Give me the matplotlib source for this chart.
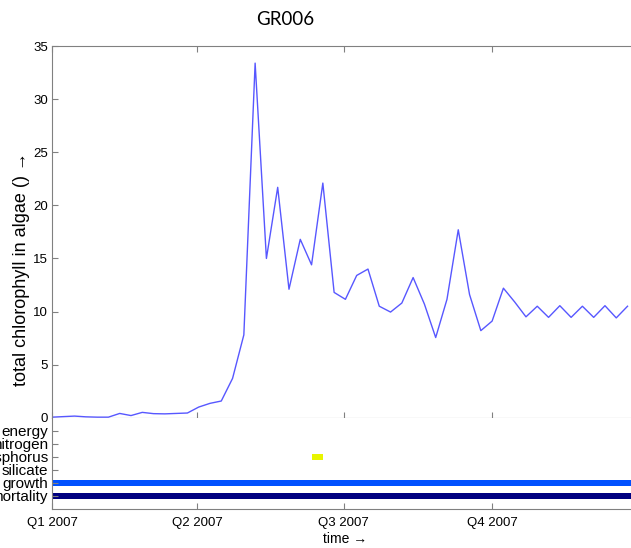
"""Chlorophyll time series with limiting-factor strip for station GR006."""

import datetime as dt

import matplotlib
matplotlib.use('Agg')
import matplotlib.dates as mdates
import matplotlib.pyplot as plt

plt.rcParams['font.family'] = ['Liberation Sans', 'DejaVu Sans']
plt.rcParams['font.size'] = 10

# weekly model output, starting 1 Jan 2007
start = dt.date(2007, 1, 1)
chlorophyll = [0.05, 0.1, 0.15, 0.08, 0.05, 0.05, 0.4, 0.2, 0.5, 0.38,
               0.36, 0.4, 0.44, 1.0, 1.35, 1.57, 3.7, 7.8, 33.4, 15.0,
               21.7, 12.1, 16.8, 14.4, 22.1, 11.8, 11.15, 13.4, 14.0, 10.5,
               9.95, 10.8, 13.2, 10.7, 7.55, 11.15, 17.7, 11.6, 8.2, 9.1,
               12.2, 10.9, 9.5, 10.5, 9.45, 10.55, 9.45, 10.5, 9.45, 10.55,
               9.4, 10.5]
dates = [start + dt.timedelta(days=7 * i) for i in range(len(chlorophyll))]

# limiting factors, top to bottom
factors = ['energy', 'nitrogen', 'phosphorus', 'silicate', 'growth', 'mortality']
# (factor, first week index, number of weeks, colour)
limits = [('phosphorus', 23, 1, '#e8f500'),
          ('growth', 0, 52, '#0050ff'),
          ('mortality', 0, 52, '#000080')]

quarters = [dt.date(2007, 1, 1), dt.date(2007, 4, 1),
            dt.date(2007, 7, 1), dt.date(2007, 10, 1)]
quarter_labels = ['Q1 2007', 'Q2 2007', 'Q3 2007', 'Q4 2007']

xlim = (dt.date(2007, 1, 1), dt.date(2007, 12, 31))
grey = '#808080'

fig = plt.figure(figsize=(6.31, 5.48), dpi=100)
ax = fig.add_axes([0.0824, 0.2378, 0.93, 0.678])
ax2 = fig.add_axes([0.0824, 0.0712, 0.93, 0.1666])

ax.plot(dates, chlorophyll, color='#3a3aff', lw=1.0, alpha=0.85)
ax.set_xlim(*xlim)
ax.set_ylim(0, 35)
ax.set_yticks(range(0, 36, 5))
ax.set_xticks(quarters)
ax.set_xticklabels([])
ax.tick_params(direction='in', length=4, color=grey, top=True,
               labelsize=9.5, pad=3)
ax.set_xlabel('x coordinate \u2192', labelpad=5)
for s in ax.spines.values():
    s.set_color(grey)

# limiting-factor strip
ypos = {f: len(factors) - i for i, f in enumerate(factors)}
for name, first, n, colour in limits:
    ax2.barh(ypos[name], n * 7, left=mdates.date2num(dates[first]),
             height=0.47, color=colour)
ax2.set_xlim(*xlim)
ax2.set_ylim(0, 7)
ax2.set_yticks([ypos[f] for f in factors])
ax2.set_yticklabels(factors)
ax2.set_xticks(quarters)
ax2.set_xticklabels(quarter_labels)
ax2.tick_params(direction='in', length=4, color=grey, pad=3)
ax2.tick_params(axis='y', labelsize=11)
ax2.tick_params(axis='x', labelsize=9.5, pad=6)
ax2.set_xlabel('time \u2192', labelpad=2)
for s in ax2.spines.values():
    s.set_color(grey)
ax2.spines['top'].set_visible(False)

fig.text(0.034, 0.51, 'total chlorophyll in algae () \u2192', rotation=90,
         ha='center', va='center', fontsize=13)
fig.text(0.452, 0.964, 'GR006', ha='center', va='center',
         fontsize=13.5, family=['Lato', 'DejaVu Sans'])

fig.savefig('out.png', dpi=100)
